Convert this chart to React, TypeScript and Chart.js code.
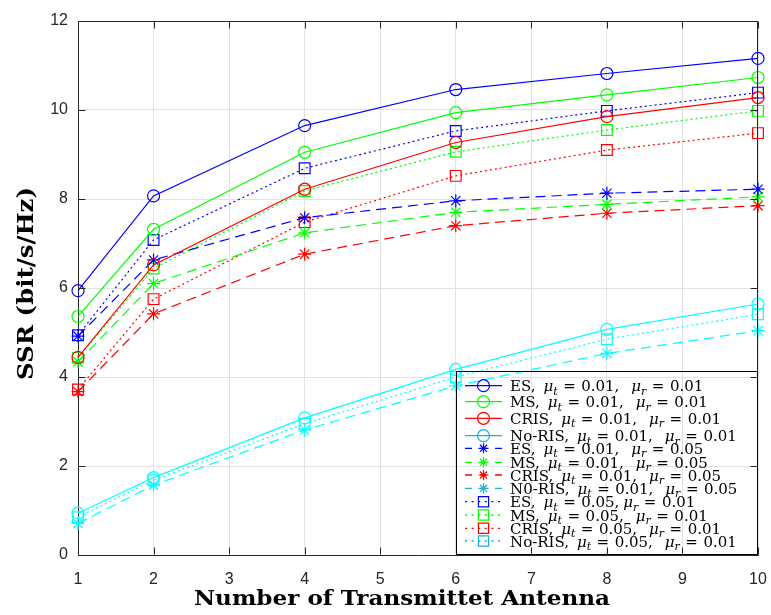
import React, { useEffect, useRef } from "react";
import { Chart, registerables } from "chart.js";

Chart.register(...registerables);

// ---------- data ----------
const antennas = [1, 2, 4, 6, 8, 10];

// mu_t = 0.01, mu_r = 0.01 (solid, circles)
const esA = [5.94, 8.07, 9.65, 10.46, 10.82, 11.16];
const msA = [5.36, 7.32, 9.05, 9.94, 10.34, 10.73];
const crisA = [4.44, 6.52, 8.22, 9.27, 9.85, 10.28];
const noRisA = [0.94, 1.74, 3.08, 4.17, 5.07, 5.64];
// mu_t = 0.01, mu_r = 0.05 (dashed, stars)
const esB = [4.92, 6.63, 7.58, 7.96, 8.13, 8.22];
const msB = [4.34, 6.1, 7.24, 7.7, 7.88, 8.05];
const crisB = [3.67, 5.42, 6.76, 7.4, 7.68, 7.85];
const noRisB = [0.71, 1.57, 2.81, 3.8, 4.53, 5.04];
// mu_t = 0.05, mu_r = 0.01 (dotted, squares)
const esC = [4.94, 7.08, 8.69, 9.53, 9.98, 10.39];
const msC = [4.43, 6.44, 8.18, 9.06, 9.55, 9.98];
const crisC = [3.72, 5.75, 7.48, 8.52, 9.1, 9.48];
const noRisC = [0.85, 1.68, 2.95, 4.0, 4.85, 5.41];

const seriesValues = [esA, msA, crisA, noRisA, esB, msB, crisB, noRisB, esC, msC, crisC, noRisC];
const seriesNames = ["ES", "MS", "CRIS", "No-RIS", "ES", "MS", "CRIS", "N0-RIS", "ES", "MS", "CRIS", "No-RIS"];
const muT = ["0.01", "0.01", "0.01", "0.01", "0.01", "0.01", "0.01", "0.01", "0.05", "0.05", "0.05", "0.05"];
const muR = ["0.01", "0.01", "0.01", "0.01", "0.05", "0.05", "0.05", "0.05", "0.01", "0.01", "0.01", "0.01"];
const tightComma = [false, false, false, false, false, false, false, false, true, false, false, false];

const xTitle = "Number of Transmittet Antenna";
const yTitle = "SSR (bit/s/Hz)";

// ---------- styles ----------
const plotColors = ["#0000ff", "#00ff00", "#ff0000", "#00ffff"];
const legendColors = ["#0000ff", "#00ff00", "#ff0000", "#16b2dc"];
const groupStyles = [
  { dash: [] as number[], legendDash: [] as number[], point: "circle", radius: 6 },
  { dash: [10, 6], legendDash: [7, 8], point: "star", radius: 6.5 },
  { dash: [2, 3], legendDash: [2, 4.6], point: "rect", radius: 7.6 },
];

const AXIS = "#262626";
const SERIF = '"DejaVu Serif", serif';

function drawMarker(ctx: CanvasRenderingContext2D, style: string, x: number, y: number, r: number) {
  ctx.beginPath();
  if (style === "circle") {
    ctx.arc(x, y, r, 0, Math.PI * 2);
  } else if (style === "rect") {
    const s = r * Math.SQRT1_2;
    ctx.rect(x - s, y - s, 2 * s, 2 * s);
  } else {
    ctx.moveTo(x - r, y);
    ctx.lineTo(x + r, y);
    ctx.moveTo(x, y - r);
    ctx.lineTo(x, y + r);
    const d = r * Math.SQRT1_2;
    ctx.moveTo(x - d, y - d);
    ctx.lineTo(x + d, y + d);
    ctx.moveTo(x - d, y + d);
    ctx.lineTo(x + d, y - d);
  }
  ctx.stroke();
}

function drawLabel(
  ctx: CanvasRenderingContext2D,
  x0: number,
  yBase: number,
  name: string,
  mt: string,
  mr: string,
  tight: boolean
) {
  let x = x0;
  const F = `15px ${SERIF}`;
  const FI = `italic 15px ${SERIF}`;
  const FS = `italic 11px ${SERIF}`;
  const put = (t: string, font: string, dy = 0) => {
    ctx.font = font;
    ctx.fillText(t, x, yBase + dy);
    x += ctx.measureText(t).width;
  };
  put(name + ",", F);
  x += 8;
  put("\u03bc", FI);
  put("t", FS, 3.5);
  x += 5.5;
  put("=", F);
  x += 5.5;
  put(mt + ",", F);
  x += tight ? 4 : 12;
  put("\u03bc", FI);
  put("r", FS, 3.5);
  x += 5.5;
  put("=", F);
  x += 5.5;
  put(mr, F);
}

const decorPlugin = {
  id: "decor",
  afterDraw(chart: any) {
    const ctx: CanvasRenderingContext2D = chart.ctx;
    const { left, right, top, bottom } = chart.chartArea;
    const xs = chart.scales.x;
    const ys = chart.scales.y;
    ctx.save();
    ctx.strokeStyle = AXIS;
    ctx.lineWidth = 1;
    ctx.setLineDash([]);
    const L = Math.round(left) + 0.5;
    const R = Math.round(right) - 0.5;
    const T = Math.round(top) + 0.5;
    const B = Math.round(bottom) - 0.5;
    // box top & right
    ctx.beginPath();
    ctx.moveTo(L, T);
    ctx.lineTo(R, T);
    ctx.lineTo(R, B);
    ctx.stroke();
    // inner ticks
    const tl = 7;
    ctx.beginPath();
    for (let v = 1; v <= 10; v++) {
      const px = Math.round(xs.getPixelForValue(v)) + 0.5;
      ctx.moveTo(px, B);
      ctx.lineTo(px, B - tl);
      ctx.moveTo(px, T);
      ctx.lineTo(px, T + tl);
    }
    for (let v = 0; v <= 12; v += 2) {
      const py = Math.round(ys.getPixelForValue(v)) + 0.5;
      ctx.moveTo(L, py);
      ctx.lineTo(L + tl, py);
      ctx.moveTo(R, py);
      ctx.lineTo(R - tl, py);
    }
    ctx.stroke();

    // legend
    const boxL = 456.5;
    const boxT = 371.5;
    ctx.strokeStyle = "#000";
    ctx.beginPath();
    ctx.rect(boxL, boxT, R - boxL, B - boxT);
    ctx.stroke();
    const rowsY = [385.7, 401.7, 418.3, 435.7, 448.3, 462.3, 475, 488.3, 501.7, 515, 528.3, 541];
    for (let i = 0; i < seriesNames.length; i++) {
      const g = groupStyles[Math.floor(i / 4)];
      const col = legendColors[i % 4];
      const y = rowsY[i];
      ctx.strokeStyle = col;
      ctx.lineWidth = 1.3;
      ctx.setLineDash(g.legendDash);
      ctx.beginPath();
      ctx.moveTo(465, y);
      ctx.lineTo(502, y);
      ctx.stroke();
      ctx.setLineDash([]);
      ctx.lineWidth = 1.2;
      drawMarker(ctx, g.point, 483.5, y, g.point === "rect" ? 7.2 : g.point === "star" ? 5 : 6);
      ctx.fillStyle = "#000";
      ctx.textAlign = "left";
      ctx.textBaseline = "alphabetic";
      drawLabel(ctx, 510, y + 5.5, seriesNames[i], muT[i], muR[i], tightComma[i]);
    }

    // axis titles
    ctx.fillStyle = "#000";
    ctx.font = `bold 20px ${SERIF}`;
    ctx.textAlign = "center";
    ctx.textBaseline = "alphabetic";
    let w = ctx.measureText(xTitle).width;
    ctx.save();
    ctx.translate(402, 605);
    ctx.scale(416 / w, 1);
    ctx.fillText(xTitle, 0, 0);
    ctx.restore();

    ctx.font = `bold 22px ${SERIF}`;
    w = ctx.measureText(yTitle).width;
    ctx.save();
    ctx.translate(33, 283.5);
    ctx.rotate(-Math.PI / 2);
    ctx.scale(193 / w, 1);
    ctx.fillText(yTitle, 0, 0);
    ctx.restore();

    ctx.restore();
  },
};

export default function App() {
  const ref = useRef<HTMLCanvasElement | null>(null);

  useEffect(() => {
    document.body.style.margin = "0";
    const canvas = ref.current;
    if (!canvas) return;

    const datasets = seriesValues.map((vals, i) => {
      const g = groupStyles[Math.floor(i / 4)];
      const col = plotColors[i % 4];
      return {
        label: `${seriesNames[i]}, mu_t = ${muT[i]}, mu_r = ${muR[i]}`,
        data: antennas.map((x, j) => ({ x, y: vals[j] })),
        borderColor: col,
        backgroundColor: "rgba(0,0,0,0)",
        borderWidth: 1.2,
        borderDash: g.dash,
        pointStyle: g.point,
        pointRadius: g.radius,
        pointHoverRadius: g.radius,
        pointBorderWidth: 1.2,
        pointBorderColor: col,
        pointBackgroundColor: "rgba(0,0,0,0)",
        tension: 0,
        clip: false,
      };
    });

    const tickFont = { family: '"Liberation Sans", Arial, sans-serif', size: 16 };

    const chart = new Chart(canvas, {
      type: "line",
      data: { datasets } as any,
      options: {
        animation: false,
        responsive: false,
        devicePixelRatio: 1,
        layout: { padding: { left: 0, top: 21, right: 13, bottom: 0 } },
        plugins: { legend: { display: false }, tooltip: { enabled: false } },
        scales: {
          x: {
            type: "linear",
            min: 1,
            max: 10,
            ticks: { stepSize: 1, font: tickFont, color: AXIS, padding: 15, maxRotation: 0 },
            grid: { color: "#e2e2e2", drawTicks: false, lineWidth: 1 },
            border: { color: AXIS, width: 1 },
            afterFit: (s: any) => {
              s.height = 60;
              s.paddingLeft = 0;
              s.paddingRight = 0;
            },
          },
          y: {
            type: "linear",
            min: 0,
            max: 12,
            ticks: { stepSize: 2, font: tickFont, color: AXIS, padding: 10 },
            grid: { color: "#e2e2e2", drawTicks: false, lineWidth: 1 },
            border: { color: AXIS, width: 1 },
            afterFit: (s: any) => {
              s.width = 78;
              s.paddingTop = 0;
              s.paddingBottom = 0;
            },
          },
        },
      } as any,
      plugins: [decorPlugin],
    });

    return () => chart.destroy();
  }, []);

  return (
    <div style={{ width: 771, height: 615, background: "#fff" }}>
      <canvas ref={ref} width={771} height={615} />
    </div>
  );
}
